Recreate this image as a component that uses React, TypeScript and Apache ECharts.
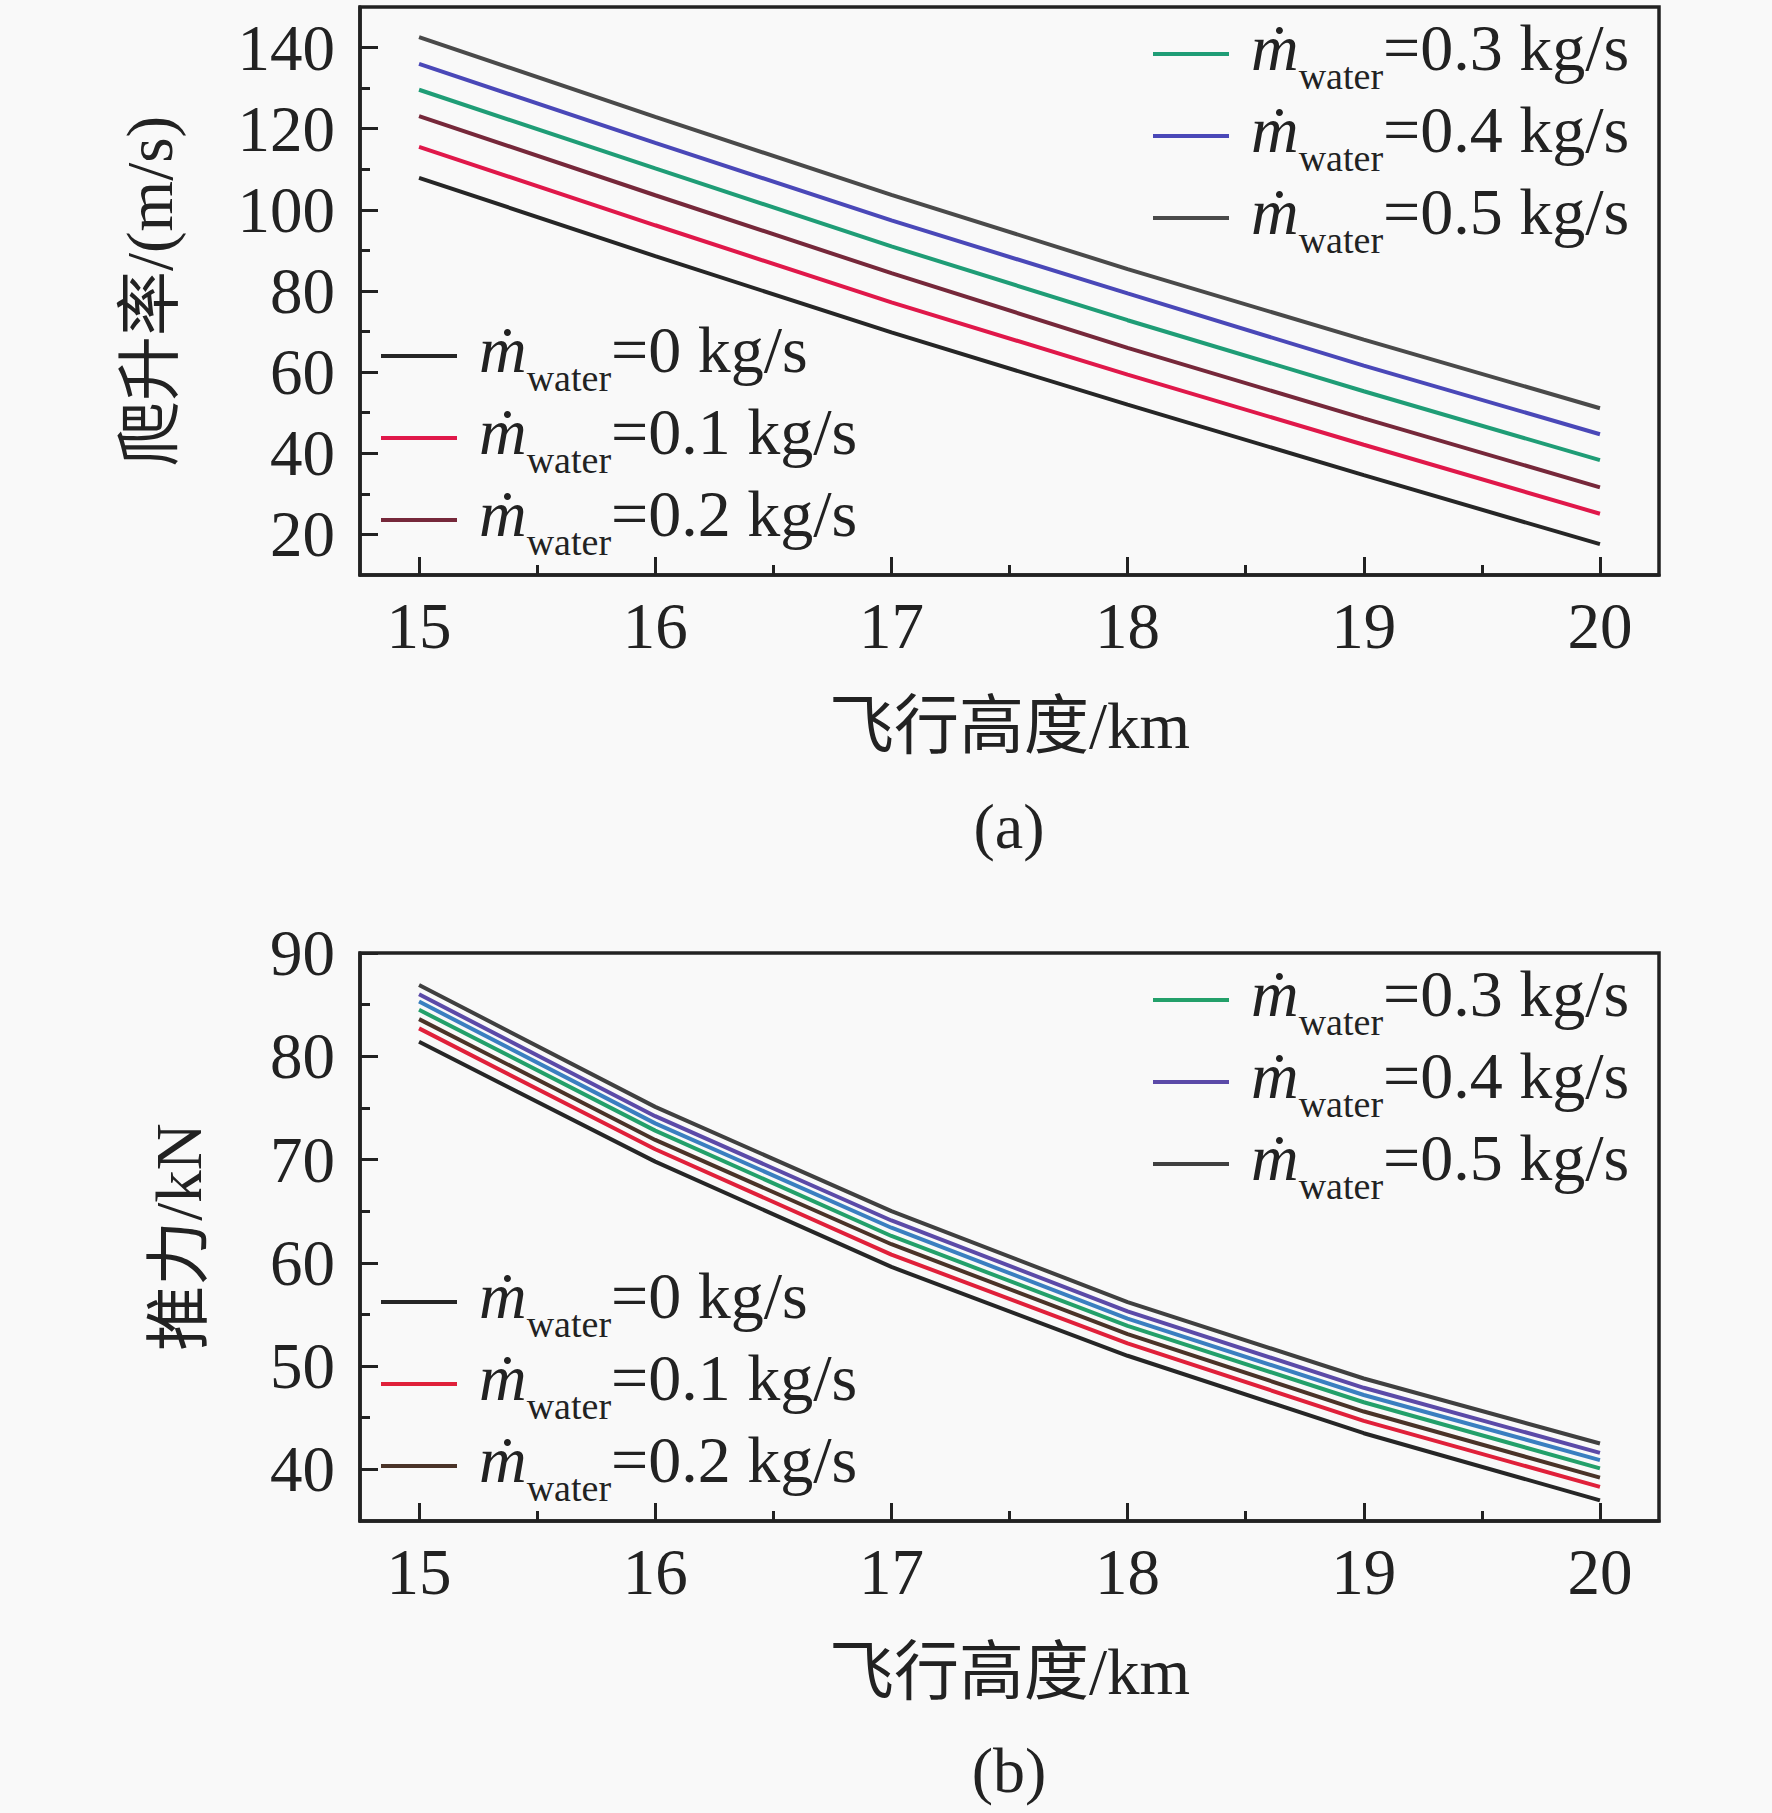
import React, { useEffect, useRef } from "react";
import * as echarts from "echarts";

// ---------- data ----------
const altitudes = [15, 16, 17, 18, 19, 20];
const xTickValues = [15, 16, 17, 18, 19, 20];
const xMinorTicks = [15.5, 16.5, 17.5, 18.5, 19.5];

// (a) climb rate, m/s
const climbTicks = [20, 40, 60, 80, 100, 120, 140];
const climbMinor = [30, 50, 70, 90, 110, 130];
const climb00 = [107.9, 88.6, 69.8, 52.0, 34.6, 17.6];
const climb01 = [115.5, 96.2, 77.2, 59.4, 42.1, 25.1];
const climb02 = [123.1, 103.6, 84.4, 66.0, 48.6, 31.6];
const climb03 = [129.6, 110.2, 91.0, 72.8, 55.3, 38.3];
const climb04 = [136.0, 116.5, 97.4, 79.4, 61.6, 44.7];
const climb05 = [142.6, 122.9, 103.7, 85.4, 68.0, 51.1];

// (b) thrust, kN
const thrustTicks = [40, 50, 60, 70, 80, 90];
const thrustMinor = [45, 55, 65, 75, 85];
const thrust00 = [81.4, 69.8, 59.6, 51.0, 43.5, 37.0];
const thrust01 = [82.7, 71.0, 60.8, 52.2, 44.7, 38.3];
const thrust02 = [83.6, 71.9, 61.8, 53.1, 45.6, 39.2];
const thrust03 = [84.5, 72.8, 62.6, 53.9, 46.5, 40.1];
const thrustExtra = [85.3, 73.5, 63.4, 54.6, 47.2, 40.9];
const thrust04 = [86.0, 74.2, 64.1, 55.3, 47.9, 41.6];
const thrust05 = [86.9, 75.1, 65.0, 56.2, 48.8, 42.5];

const flowLabels = ["0", "0.1", "0.2", "0.3", "0.4", "0.5"];

// ---------- styles ----------
const FONT = "'Liberation Serif', 'Times New Roman', 'Noto Sans CJK SC', serif";
const INK = "#222222";
const colorsA = ["#262626", "#e0184a", "#76283a", "#1f9d76", "#4a48b8", "#4a4a4a"];
const colorsB = ["#262626", "#e0203a", "#4a3328", "#23a06a", "#5b4aa8", "#404040"];
const extraColorB = "#3a7fc0";

const pairs = (ys: number[]) => altitudes.map((x, i) => [x, ys[i]]);

const richLegend = {
  m: {
    fontFamily: FONT,
    fontStyle: "italic",
    fontSize: 66,
    lineHeight: 80,
    verticalAlign: "top",
    padding: [0, 0, 0, 17],
    color: INK,
  },
  sub: {
    fontFamily: FONT,
    fontSize: 38,
    lineHeight: 30,
    verticalAlign: "top",
    padding: [43, 0, 8, 0],
    color: INK,
  },
  t: {
    fontFamily: FONT,
    fontSize: 66,
    lineHeight: 80,
    verticalAlign: "top",
    color: INK,
  },
};

function legendFmt(name: string) {
  const v = name.slice(1);
  return `{m|ṁ}{sub|water}{t|=${v} kg/s}`;
}

function makeLegend(names: string[], left: number, top: number) {
  return {
    data: names,
    orient: "vertical",
    left,
    top,
    padding: 0,
    itemGap: -7,
    itemWidth: 76,
    itemHeight: 4,
    icon: "rect",
    selectedMode: false,
    formatter: legendFmt,
    textStyle: { fontFamily: FONT, color: INK, rich: richLegend },
  };
}

function mainX(gridIndex: number) {
  return {
    type: "value",
    gridIndex,
    min: 14.75,
    max: 20.25,
    position: "bottom",
    name: "飞行高度/km",
    nameLocation: "middle",
    nameGap: 118,
    nameTextStyle: { fontFamily: FONT, fontSize: 65, color: INK },
    axisLine: { show: true, lineStyle: { color: INK, width: 3.5 } },
    axisTick: { show: true, inside: true, length: 18, lineStyle: { color: INK, width: 3 }, customValues: xTickValues },
    axisLabel: { show: true, margin: 18, fontFamily: FONT, fontSize: 65, color: INK, customValues: xTickValues },
    splitLine: { show: false },
  };
}

function minorX(gridIndex: number) {
  return {
    type: "value",
    gridIndex,
    min: 14.75,
    max: 20.25,
    position: "bottom",
    offset: 0,
    axisLine: { show: false },
    axisTick: { show: true, inside: true, length: 10, lineStyle: { color: INK, width: 3 }, customValues: xMinorTicks },
    axisLabel: { show: false },
    splitLine: { show: false },
  };
}

function mainY(gridIndex: number, min: number, max: number, ticks: number[], name: string, nameGap: number) {
  return {
    type: "value",
    gridIndex,
    min,
    max,
    position: "left",
    name,
    nameLocation: "middle",
    nameRotate: 90,
    nameGap,
    nameTextStyle: { fontFamily: FONT, fontSize: 65, color: INK },
    axisLine: { show: true, lineStyle: { color: INK, width: 3.5 } },
    axisTick: { show: true, inside: true, length: 18, lineStyle: { color: INK, width: 3 }, customValues: ticks },
    axisLabel: { show: true, margin: 25, fontFamily: FONT, fontSize: 65, color: INK, customValues: ticks },
    splitLine: { show: false },
  };
}

function minorY(gridIndex: number, min: number, max: number, ticks: number[]) {
  return {
    type: "value",
    gridIndex,
    min,
    max,
    position: "left",
    offset: 0,
    axisLine: { show: false },
    axisTick: { show: true, inside: true, length: 10, lineStyle: { color: INK, width: 3 }, customValues: ticks },
    axisLabel: { show: false },
    splitLine: { show: false },
  };
}

function lineSeries(name: string, ys: number[], color: string, axis: number) {
  return {
    type: "line",
    name,
    data: pairs(ys),
    xAxisIndex: axis,
    yAxisIndex: axis,
    showSymbol: false,
    symbol: "none",
    color,
    itemStyle: { color },
    lineStyle: { color, width: 4 },
    z: 3,
  };
}

export default function App() {
  const ref = useRef<HTMLDivElement>(null);

  useEffect(() => {
    if (!ref.current) return;
    const chart = echarts.init(ref.current, undefined, { renderer: "svg" });

    const seriesA = [climb00, climb01, climb02, climb03, climb04, climb05].map((ys, i) =>
      lineSeries("a" + flowLabels[i], ys, colorsA[i], 0)
    );
    const seriesB = [thrust00, thrust01, thrust02, thrust03, thrust04, thrust05].map((ys, i) =>
      lineSeries("b" + flowLabels[i], ys, colorsB[i], 2)
    );
    seriesB.splice(4, 0, lineSeries("extra", thrustExtra, extraColorB, 2));

    const option = {
      animation: false,
      backgroundColor: "#f9f9f9",
      grid: [
        { left: 360, top: 7, width: 1299, height: 568, show: true, borderColor: INK, borderWidth: 3.5, backgroundColor: "transparent" },
        { left: 360, top: 953, width: 1299, height: 568, show: true, borderColor: INK, borderWidth: 3.5, backgroundColor: "transparent" },
      ],
      xAxis: [mainX(0), minorX(0), mainX(1), minorX(1)],
      yAxis: [
        mainY(0, 10, 150, climbTicks, "爬升率/(m/s)", 178),
        minorY(0, 10, 150, climbMinor),
        mainY(1, 35, 90, thrustTicks, "推力/kN", 149),
        minorY(1, 35, 90, thrustMinor),
      ],
      legend: [
        makeLegend(["a0.3", "a0.4", "a0.5"], 1153, 14),
        makeLegend(["a0", "a0.1", "a0.2"], 381, 316),
        makeLegend(["b0.3", "b0.4", "b0.5"], 1153, 960),
        makeLegend(["b0", "b0.1", "b0.2"], 381, 1262),
      ],
      graphic: [
        {
          type: "text",
          x: 1009,
          y: 826,
          style: { text: "(a)", fontFamily: FONT, fontSize: 64, fill: INK, textAlign: "center", textVerticalAlign: "middle" },
        },
        {
          type: "text",
          x: 1009,
          y: 1770,
          style: { text: "(b)", fontFamily: FONT, fontSize: 64, fill: INK, textAlign: "center", textVerticalAlign: "middle" },
        },
      ],
      series: [...seriesA, ...seriesB],
    };

    chart.setOption(option as any);
    return () => chart.dispose();
  }, []);

  return (
    <div
      ref={ref}
      style={{ position: "absolute", left: 0, top: 0, width: 1772, height: 1813 }}
    />
  );
}
